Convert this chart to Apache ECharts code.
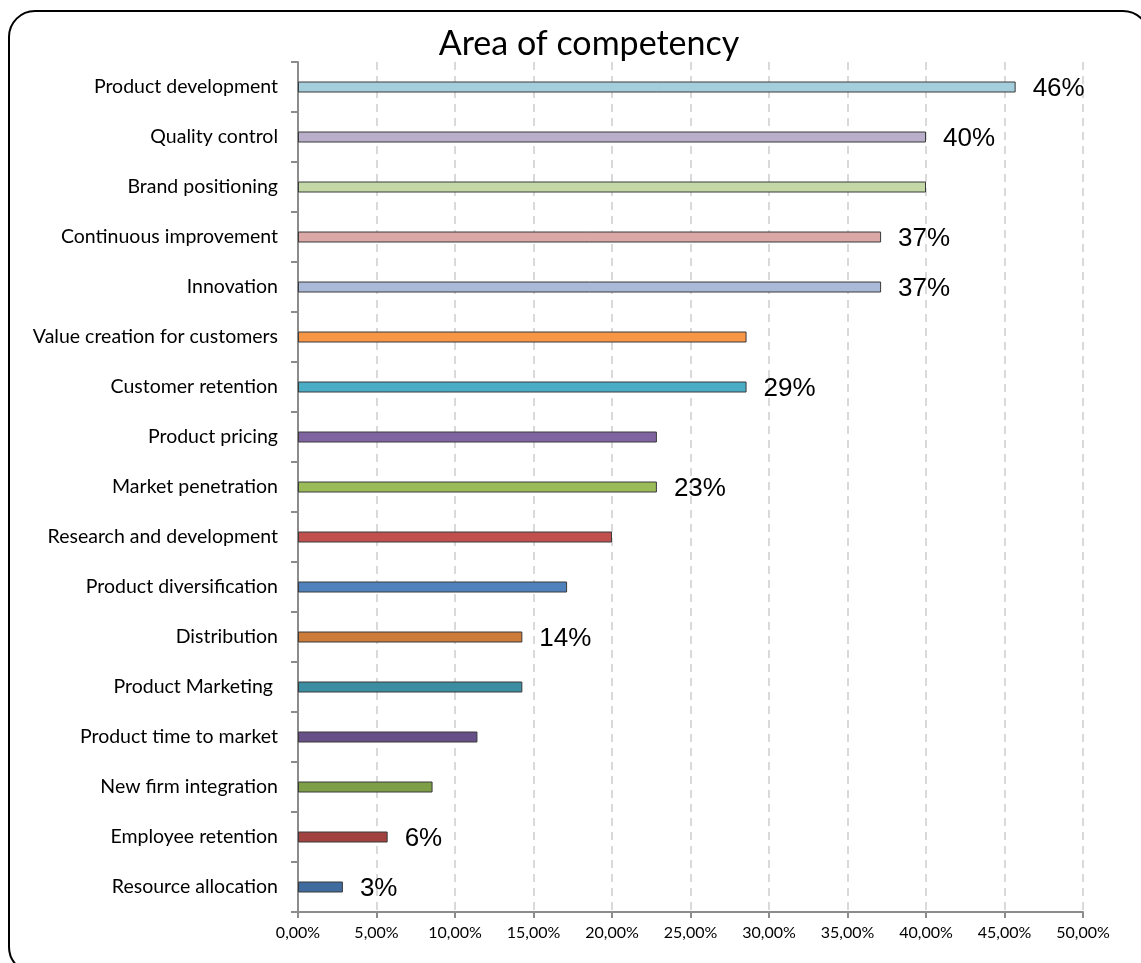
<!DOCTYPE html>
<html>
<head>
<meta charset="utf-8">
<script src="https://cdn.jsdelivr.net/npm/echarts@6/dist/echarts.min.js"></script>
<style>
  html, body { margin: 0; padding: 0; background: #fff; }
  #chart { width: 1141px; height: 963px; }
</style>
</head>
<body>
<div id="chart"></div>
<script>
// Competency areas, top to bottom
const categories = [
  'Product development', 'Quality control', 'Brand positioning',
  'Continuous improvement', 'Innovation', 'Value creation for customers',
  'Customer retention', 'Product pricing', 'Market penetration',
  'Research and development', 'Product diversification', 'Distribution',
  'Product Marketing ', 'Product time to market', 'New firm integration',
  'Employee retention', 'Resource allocation'
];
// Share of respondents, percent
const values = [
  45.71, 40.00, 40.00, 37.14, 37.14, 28.57, 28.57, 22.86, 22.86,
  20.00, 17.14, 14.29, 14.29, 11.43, 8.57, 5.71, 2.86
];
// Which bars carry a value label
const showValue = [
  true, true, false, true, true, false, true, false, true,
  false, false, true, false, false, false, true, true
];
const barColors = [
  '#A5CEDC', '#B9AFCB', '#C4D7A6', '#DAA8A7', '#A9B9D7', '#F79646',
  '#4BACC6', '#8064A2', '#9BBB59', '#C0504D', '#4F81BD', '#CC7B38',
  '#3B8DA2', '#674F88', '#7E9E48', '#A24240', '#3F6B9F'
];
const xTicks = [0, 5, 10, 15, 20, 25, 30, 35, 40, 45, 50];

const chart = echarts.init(document.getElementById('chart'), null, { renderer: 'canvas' });

const seriesData = values.map((v, i) => ({
  value: v,
  itemStyle: { color: barColors[i] },
  label: { show: showValue[i] }
}));

chart.setOption({
  animation: false,
  backgroundColor: '#fff',
  graphic: [{
    type: 'rect',
    shape: { x: 9, y: 11, width: 1140, height: 962, r: 26 },
    style: { fill: 'none', stroke: '#000', lineWidth: 2 },
    z: -1
  }],
  title: {
    text: 'Area of competency',
    left: 584,
    textAlign: 'center',
    top: 22,
    textStyle: { fontFamily: 'Lato', fontSize: 34, fontWeight: 'normal', color: '#000' }
  },
  grid: { left: 298, right: 58, top: 62, bottom: 51, containLabel: false },
  xAxis: {
    type: 'value',
    min: xTicks[0],
    max: xTicks[xTicks.length - 1],
    interval: 5,
    axisLine: { show: true, lineStyle: { color: '#8C8C8C', width: 2 } },
    axisTick: { show: true, length: 6, lineStyle: { color: '#8C8C8C', width: 2 } },
    axisLabel: {
      margin: 13,
      fontFamily: 'Lato',
      fontSize: 16,
      color: '#000',
      formatter: v => v.toFixed(2).replace('.', ',') + '%'
    },
    splitLine: {
      show: true,
      lineStyle: { color: '#D9D9D9', width: 2, type: [8, 6] }
    }
  },
  yAxis: {
    type: 'category',
    data: categories,
    inverse: true,
    axisLine: { show: true, lineStyle: { color: '#8C8C8C', width: 2 } },
    axisTick: { show: true, length: 7, inside: false, lineStyle: { color: '#8C8C8C', width: 2 } },
    axisLabel: {
      margin: 20,
      fontFamily: 'Lato',
      fontSize: 19.5,
      color: '#000'
    },
    splitLine: { show: false }
  },
  series: [{
    type: 'bar',
    data: seriesData,
    barWidth: 11,
    itemStyle: { borderColor: '#3A3A3A', borderWidth: 1 },
    label: {
      position: 'right',
      distance: 17,
      offset: [0, 2],
      fontFamily: 'Liberation Sans',
      fontSize: 26,
      color: '#000',
      formatter: p => Math.round(p.value) + '%'
    }
  }]
});
</script>
</body>
</html>
